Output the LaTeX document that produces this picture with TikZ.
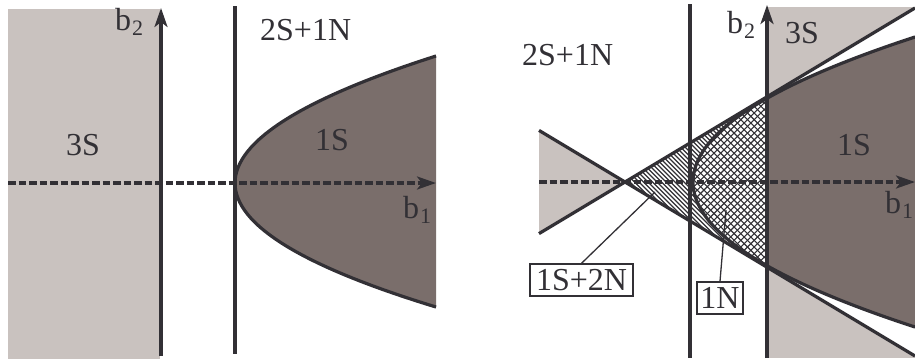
\documentclass[tikz,border=0pt]{standalone}
\usepackage{fontspec}
\setmainfont{Liberation Serif}
\usetikzlibrary{arrows.meta}
\definecolor{lc}{RGB}{50,48,53}
\definecolor{lightg}{RGB}{201,194,191}
\definecolor{darkg}{RGB}{122,110,107}
\newcommand{\lowidx}[1]{\kern1pt\raisebox{-5pt}{\fontsize{22}{22}\selectfont #1}}
\begin{document}
\begin{tikzpicture}[x=1pt,y=-1pt,
 bold/.style={line width=3.2pt, draw=lc},
 axis/.style={bold, -{Stealth[length=19pt,width=13pt,inset=5pt]}},
 dashaxis/.style={axis, dash pattern=on 7.5pt off 3pt},
 hatch/.style={line width=1.1pt, draw=lc},
 lbl/.style={inner sep=0pt, anchor=base west, font=\fontsize{32}{36}\selectfont, text=lc},
 boxlbl/.style={draw=lc, line width=1.4pt, inner sep=0pt, font=\fontsize{32}{36}\selectfont, text=lc},
 leader/.style={line width=1.3pt, draw=lc}]
\useasboundingbox (0,0) rectangle (915,360);
% ---------------- left panel ----------------
\fill[lightg] (8,9) rectangle (160,359);
\fill[darkg] (436,56) .. controls (168,141.67) and (168,225.33) .. (436,307) -- cycle;
\coordinate (Lax0) at (161,356);
\coordinate (Lax1) at (161,8);
\coordinate (Lv0) at (235,6);
\coordinate (Lv1) at (235,354);
\coordinate (Ld0) at (8,183);
\coordinate (Ld1) at (436,183);
\coordinate (Lp0) at (436,56);
\coordinate (Lp1) at (436,307);
\draw[bold] (Lp0) .. controls (168,141.67) and (168,225.33) .. (Lp1);
\draw[bold] (Lv0) -- (Lv1);
\draw[axis] (Lax0) -- (Lax1);
\draw[dashaxis] (Ld0) -- (Ld1);
\node[lbl] (lb2) at (115,30) {b\lowidx{2}};
\node[lbl] (l2s) at (260,40) {2S+1N};
\node[lbl] (l3s) at (66,155) {3S};
\node[lbl] (l1s) at (315,150) {1S};
\node[lbl] (lb1) at (403,218) {b\lowidx{1}};
% ---------------- right panel ----------------
\coordinate (C) at (625,182);
\coordinate (A0) at (539,130.4);
\coordinate (A1) at (915,356);
\coordinate (B0) at (539,233.6);
\coordinate (B1) at (915,8);
\fill[lightg] (767,7) rectangle (915,358);
\fill[white] (767,96.8) -- (B1) -- (A1) -- (767,267.2) -- cycle;
\begin{scope}
\clip (767,0) rectangle (915,360);
\fill[darkg] (915,37) .. controls (619,133.67) and (619,230.33) .. (915,327) -- cycle;
\end{scope}
\fill[lightg] (A0) -- (C) -- (B0) -- cycle;
% hatching 1S+2N
\begin{scope}
\clip (C) -- (767,96.8) -- (767,267.2) -- cycle;
\foreach \c in {340,344.5,...,690} \draw[hatch] (\c+40,40) -- (\c+330,330);
\end{scope}
% crosshatch 1N
\begin{scope}
\clip (600,0) rectangle (767,360);
\clip (915,37) .. controls (619,133.67) and (619,230.33) .. (915,327) -- cycle;
\fill[white] (600,0) rectangle (767,360);
\foreach \c in {400,406.7,...,700} \draw[hatch] (\c+40,40) -- (\c+330,330);
\foreach \c in {760,766.7,...,1060} \draw[hatch] (\c-40,40) -- (\c-330,330);
\end{scope}
\coordinate (Rp0) at (915,37);
\coordinate (Rp1) at (915,327);
\coordinate (Rv0) at (690,4);
\coordinate (Rv1) at (690,358);
\coordinate (Rax0) at (767,358);
\coordinate (Rax1) at (767,5);
\coordinate (Rd0) at (539,182);
\coordinate (Rd1) at (915,182);
\draw[bold] (A0) -- (A1);
\draw[bold] (B0) -- (B1);
\draw[bold] (Rp0) .. controls (619,133.67) and (619,230.33) .. (Rp1);
\draw[bold] (Rv0) -- (Rv1);
\draw[axis] (Rax0) -- (Rax1);
\draw[dashaxis] (Rd0) -- (Rd1);
\node[lbl] (rb2) at (727,33) {b\lowidx{2}};
\node[lbl] (r3s) at (785,43) {3S};
\node[lbl] (r2s) at (522,65) {2S+1N};
\node[lbl] (r1s) at (837,155) {1S};
\node[lbl] (rb1) at (885,213) {b\lowidx{1}};
\node[boxlbl, fill=white, minimum width=103pt, minimum height=32pt] (box1) at (581.5,280) {1S+2N};
\node[boxlbl, fill=white, minimum width=46pt, minimum height=32pt] (box2) at (720,298) {1N};
\coordinate (t1) at (655,192);
\coordinate (t2) at (726,210);
\draw[leader] (box1.north) -- (t1);
\draw[leader] (box2.north) -- (t2);
\end{tikzpicture}
\end{document}
